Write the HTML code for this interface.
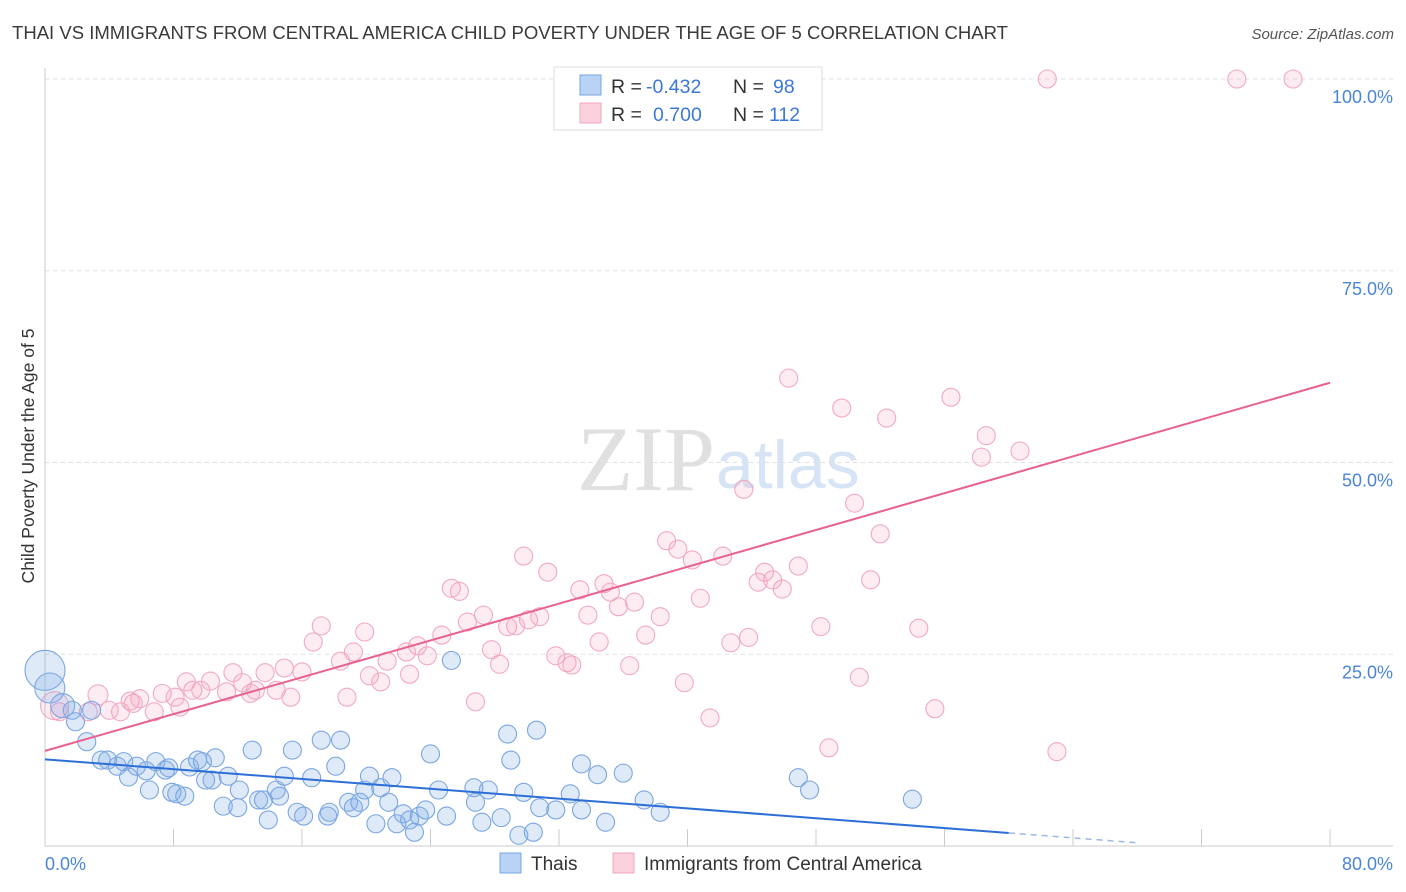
<!DOCTYPE html>
<html><head><meta charset="utf-8"><style>
body{margin:0;background:#fff;font-family:"Liberation Sans",sans-serif;}
#wrap{position:relative;width:1406px;height:892px;overflow:hidden;}
</style></head><body>
<div id="wrap">
<svg id="chart" width="1406" height="892" xmlns="http://www.w3.org/2000/svg">
<text x="12" y="39" font-size="18" fill="#3a3a3a" textLength="996" lengthAdjust="spacingAndGlyphs">THAI VS IMMIGRANTS FROM CENTRAL AMERICA CHILD POVERTY UNDER THE AGE OF 5 CORRELATION CHART</text>
<text x="1394" y="39" font-size="15" fill="#555" font-style="italic" text-anchor="end">Source: ZipAtlas.com</text>
<text x="715" y="490" font-size="92" fill="#e0e0e0" font-family="Liberation Serif,serif" text-anchor="end">ZIP</text>
<text x="716" y="488" font-size="68" fill="#d6e4f6">atlas</text>
<g id="grid"></g><g id="axes"></g><g id="pts"></g><g id="lines"></g>
<text transform="translate(34,456) rotate(-90)" font-size="17.5" fill="#333" text-anchor="middle">Child Poverty Under the Age of 5</text>
<text x="45" y="870" font-size="18" fill="#4a86d8">0.0%</text>
<text x="1393" y="870" font-size="18" fill="#4a86d8" text-anchor="end">80.0%</text>
<g>
<rect x="554" y="67" width="268" height="63" fill="#fff" stroke="#ddd"/>
<rect x="580" y="75" width="21" height="20" fill="#b9d3f5" stroke="#7aa6e0"/>
<rect x="580" y="103" width="21" height="20" fill="#fbd0dd" stroke="#f2a5bd"/>
<text y="93" font-size="19.5" fill="#333"><tspan x="611">R =</tspan><tspan x="646" fill="#3b78d8">-0.432</tspan><tspan x="733">N =</tspan><tspan x="773" fill="#3b78d8">98</tspan></text>
<text y="121" font-size="19.5" fill="#333"><tspan x="611">R =</tspan><tspan x="653" fill="#3b78d8">0.700</tspan><tspan x="733">N =</tspan><tspan x="769" fill="#3b78d8">112</tspan></text>
</g>
<g>
<rect x="500" y="853" width="21" height="20" fill="#b9d3f5" stroke="#7aa6e0"/>
<text x="531" y="870" font-size="19" fill="#333">Thais</text>
<rect x="613" y="853" width="21" height="20" fill="#fbd0dd" stroke="#f2a5bd"/>
<text x="644" y="870" font-size="19" fill="#333">Immigrants from Central America</text>
</g>
</svg>
</div>
<script>
const yTicks=[25,50,75,100];
const yTickLabels=["25.0%","50.0%","75.0%","100.0%"];
const xTicks=[0,8,16,24,32,40,48,56,64,72,80];
const pinkX=[62.4,74.2,77.7,46.3,49.6,56.4,52.4,58.6,60.7,58.3,43.5,50.4,52.0,38.7,39.4,29.8,42.2,31.3,46.9,44.8,45.3,40.3,44.4,45.9,51.4,34.8,33.3,35.2,36.7,40.8,25.3,25.8,35.7,33.8,27.3,38.3,30.8,30.1,26.3,28.8,29.3,17.2,48.3,54.4,19.9,37.4,43.8,24.7,42.7,16.7,34.5,23.2,22.5,27.8,23.8,19.2,31.8,32.5,18.4,21.3,36.4,28.3,32.8,22.7,20.2,13.7,14.9,16.0,11.7,20.9,50.7,39.8,8.8,10.3,12.3,14.4,9.2,9.7,13.1,11.3,7.3,15.3,12.8,8.1,3.3,5.9,18.8,5.3,26.8,55.4,5.5,8.4,4.0,2.7,6.8,4.7,0.9,41.4,48.8,63.0,0.6];
const pinkY=[100,100,100,61.0,57.1,58.5,55.8,53.5,51.5,50.7,46.5,44.7,40.7,39.8,38.7,37.8,37.8,35.7,36.5,35.7,34.7,37.3,34.4,33.5,34.7,34.2,33.4,33.1,31.8,32.3,33.6,33.2,31.2,30.1,30.1,29.9,29.9,29.5,29.2,28.6,28.7,28.7,28.6,28.4,27.9,27.5,27.2,27.5,26.5,26.6,26.6,26.1,25.3,25.6,24.8,25.3,24.8,23.9,24.1,24.1,23.5,23.7,23.6,22.4,22.2,22.6,23.2,22.7,22.6,21.4,22.0,21.3,21.4,21.5,21.3,20.3,20.3,20.3,20.3,20.1,19.9,19.4,19.9,19.4,19.7,19.2,19.4,18.9,18.8,17.9,18.6,18.1,17.7,17.5,17.5,17.5,17.5,16.7,12.8,12.3,18.3];
const pinkR=[9,9,9,9,9,9,9,9,9,9,9,9,9,9,9,9,9,9,9,9,9,9,9,9,9,9,9,9,9,9,9,9,9,9,9,9,9,9,9,9,9,9,9,9,9,9,9,9,9,9,9,9,9,9,9,9,9,9,9,9,9,9,9,9,9,9,9,9,9,9,9,9,9,9,9,9,9,9,9,9,9,9,9,9,10,9,9,9,9,9,9,9,9,9,9,9,9,9,9,9,14];
const blueX=[0,0.3,1.1,1.7,1.9,2.9,2.6,3.5,3.9,4.5,5.2,4.9,5.7,6.3,6.9,7.5,6.5,7.9,8.2,8.7,7.7,9.0,9.5,10.0,9.8,10.6,10.4,11.4,11.1,12.1,12.0,12.9,13.3,13.6,13.9,14.4,14.6,14.9,15.4,15.7,16.1,16.6,17.2,18.1,17.6,17.7,18.4,18.9,19.2,19.6,19.9,20.2,20.6,20.9,21.4,21.6,21.9,22.3,22.7,23.0,23.3,23.7,24.0,24.5,25.0,25.3,26.7,26.8,27.2,27.6,28.4,28.8,29.0,29.5,29.8,30.4,30.8,30.6,31.8,32.7,33.4,33.4,34.4,34.9,36.0,37.3,38.3,46.9,47.6,54.0];
const blueY=[22.9,20.6,18.3,17.7,16.2,17.7,13.6,11.2,11.2,10.4,9.0,11.0,10.4,9.8,11.0,9.9,7.3,7.0,6.8,6.5,10.2,10.3,11.2,8.6,11.0,11.5,8.6,9.1,5.2,7.3,5.0,12.5,6.0,6.0,3.4,7.3,6.5,9.1,12.5,4.4,3.9,8.9,13.8,10.4,3.9,4.4,13.8,5.7,5.0,5.7,7.3,9.1,2.9,7.6,5.7,8.9,2.9,4.2,3.4,1.8,3.9,4.7,12.0,7.3,3.9,24.2,7.6,5.7,3.1,7.3,3.7,14.6,11.2,1.4,7.0,1.8,5.0,15.1,4.7,6.8,4.7,10.7,9.3,3.1,9.5,6.0,4.4,8.9,7.3,6.1];
const blueR=[20,15,12];
const blueTrend=[11.3,-0.16]; // intercept, slope
const pinkTrend=[12.4,0.6];
const NS="http://www.w3.org/2000/svg";
const X=v=>45+v/80*1285, Y=v=>846-v/100*767;
function mk(t,a,parent){const e=document.createElementNS(NS,t);for(const k in a)e.setAttribute(k,a[k]);parent.appendChild(e);return e;}
const grid=document.getElementById('grid'),axes=document.getElementById('axes'),pts=document.getElementById('pts'),lines=document.getElementById('lines');
yTicks.forEach((t,i)=>{
 const g=mk('line',{x1:45,x2:1393,y1:Y(t),y2:Y(t),stroke:'#e0e0e0','stroke-dasharray':'4,4'},grid);
 
 
 const l=mk('text',{x:1393,y:Y(t)+24,'font-size':18,fill:'#4a86d8','text-anchor':'end'},axes);
 l.textContent=yTickLabels[i];
 
 
});
const ax=mk('line',{x1:45,x2:45,y1:68,y2:846,stroke:'#ccc'},axes);


const bx=mk('line',{x1:45,x2:1393,y1:846,y2:846,stroke:'#ccc'},axes);


xTicks.forEach(t=>{
 const k=mk('line',{x1:X(t),x2:X(t),y1:829,y2:846,stroke:'#ccc'},axes);
 
 
});
pinkX.forEach((x,i)=>{
 const c=mk('circle',{cx:X(x),cy:Y(pinkY[i]),r:pinkR[i]||9,fill:'rgba(245,165,195,0.2)',stroke:'#f2a8c0','stroke-width':1.1},pts);
 
 
});
blueX.forEach((x,i)=>{
 const c=mk('circle',{cx:X(x),cy:Y(blueY[i]),r:blueR[i]||9,fill:'rgba(130,175,232,0.26)',stroke:'#7aa6e0','stroke-width':1.1},pts);
 
 
});
const bl=mk('line',{x1:X(0),y1:Y(blueTrend[0]),x2:X(60),y2:Y(blueTrend[0]+blueTrend[1]*60),stroke:'#2d6fd6','stroke-width':2},lines);


const bd=mk('line',{x1:X(60),y1:Y(blueTrend[0]+blueTrend[1]*60),x2:X(68),y2:Y(blueTrend[0]+blueTrend[1]*68),stroke:'#9bb8e6','stroke-width':1.5,'stroke-dasharray':'6,5'},lines);


const pl=mk('line',{x1:X(0),y1:Y(pinkTrend[0]),x2:X(80),y2:Y(pinkTrend[0]+pinkTrend[1]*80),stroke:'#e8628e','stroke-width':2},lines);


</script>
</body></html>
